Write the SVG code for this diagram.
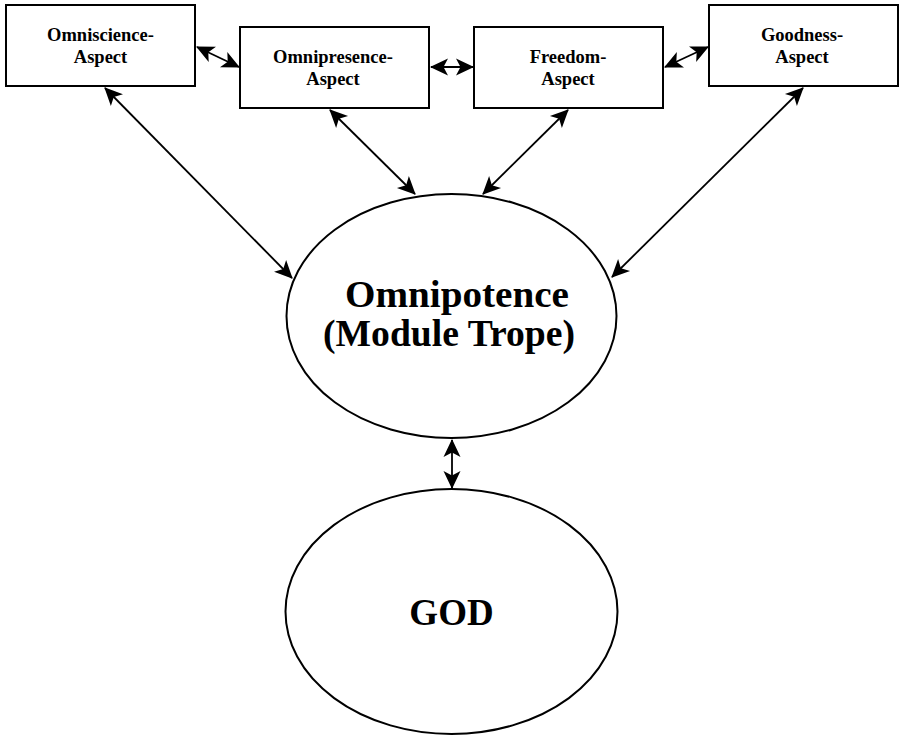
<svg xmlns="http://www.w3.org/2000/svg" width="900" height="737" viewBox="0 0 900 737">
  <style>
    .box { fill: #fff; stroke: #000; stroke-width: 2; }
    .ell { fill: #fff; stroke: #000; stroke-width: 2; }
    .lbl { font-family: "Liberation Serif", "DejaVu Serif", serif; font-weight: bold; fill: #000; text-anchor: middle; }
    .small { font-size: 18.5px; }
    .big { font-size: 38px; }
    .conn { stroke: #000; stroke-width: 1.8; fill: none; marker-start: url(#head); marker-end: url(#head); }
  </style>
  <defs>
    <!-- swept-back filled arrowhead, used at both ends of every connector -->
    <marker id="head" viewBox="-20 -10 22 20" markerWidth="22" markerHeight="20" refX="0" refY="0" markerUnits="userSpaceOnUse" orient="auto-start-reverse">
      <path d="M1,0 L-17,-8.5 L-12.5,0 L-17,8.5 Z" fill="#000"/>
    </marker>
  </defs>

  <rect width="900" height="737" fill="#fff"/>

  <g id="connectors">
    <line class="conn" x1="197" y1="47" x2="239" y2="67"/>
    <line class="conn" x1="431" y1="67" x2="473" y2="67"/>
    <line class="conn" x1="665" y1="67" x2="708" y2="47"/>
    <line class="conn" x1="105" y1="88" x2="292" y2="278"/>
    <line class="conn" x1="330" y1="110" x2="415" y2="194"/>
    <line class="conn" x1="568" y1="110" x2="483" y2="194"/>
    <line class="conn" x1="803" y1="88" x2="612" y2="277"/>
    <line class="conn" x1="452" y1="440" x2="452" y2="488"/>
  </g>

  <g id="omniscience">
    <rect class="box" x="6" y="5" width="189" height="81"/>
    <text class="lbl small" x="100.5" y="41">Omniscience-</text>
    <text class="lbl small" x="100.5" y="63">Aspect</text>
  </g>

  <g id="omnipresence">
    <rect class="box" x="240" y="27" width="189" height="81"/>
    <text class="lbl small" x="333" y="63">Omnipresence-</text>
    <text class="lbl small" x="333" y="85">Aspect</text>
  </g>

  <g id="freedom">
    <rect class="box" x="474" y="27" width="189" height="81"/>
    <text class="lbl small" x="568" y="63">Freedom-</text>
    <text class="lbl small" x="568" y="85">Aspect</text>
  </g>

  <g id="goodness">
    <rect class="box" x="709" y="5" width="189" height="81"/>
    <text class="lbl small" x="802" y="41">Goodness-</text>
    <text class="lbl small" x="802" y="63">Aspect</text>
  </g>

  <g id="omnipotence">
    <ellipse class="ell" cx="451.5" cy="316" rx="165" ry="122"/>
    <text class="lbl big" x="457" y="307" textLength="224" lengthAdjust="spacingAndGlyphs">Omnipotence</text>
    <text class="lbl big" x="449" y="346" textLength="252" lengthAdjust="spacingAndGlyphs">(Module Trope)</text>
  </g>

  <g id="god">
    <ellipse class="ell" cx="451.5" cy="611.5" rx="166" ry="122.5"/>
    <text class="lbl" x="451.5" y="625" font-size="37">GOD</text>
  </g>
</svg>
